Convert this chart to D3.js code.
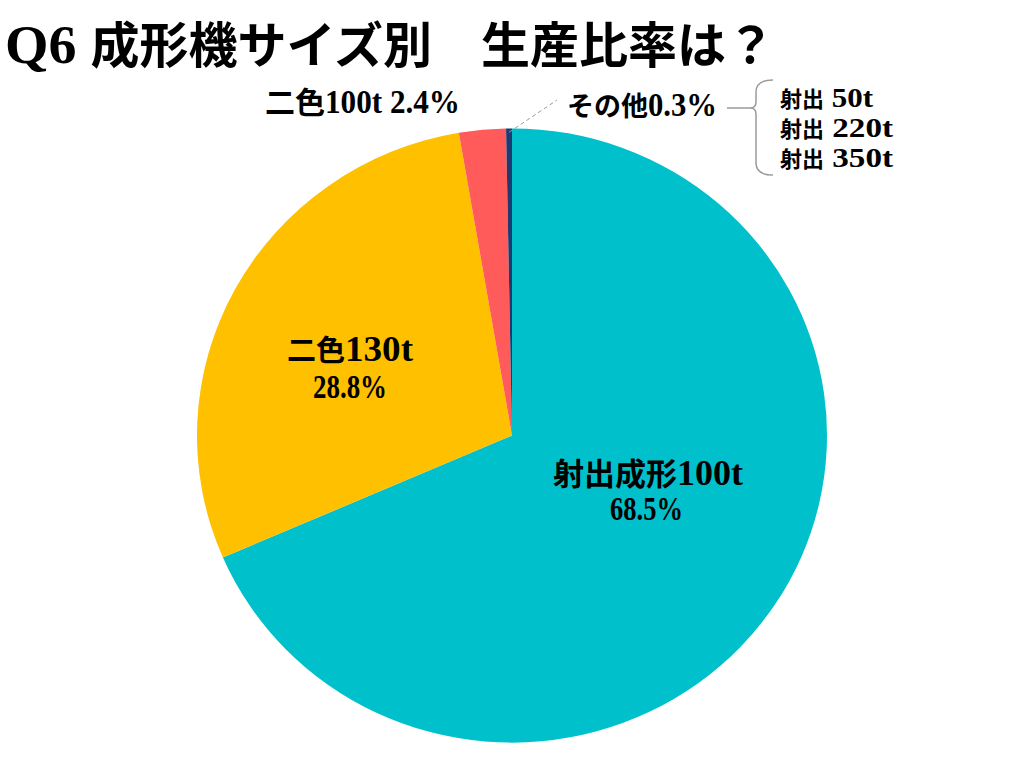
<!DOCTYPE html>
<html>
<head>
<meta charset="utf-8">
<script src="https://cdn.jsdelivr.net/npm/d3@7"></script>
<style>
html,body{margin:0;padding:0;background:#fff;}
svg text{font-family:"Liberation Serif","DejaVu Serif","Noto Sans CJK JP",serif;font-weight:bold;fill:#000;white-space:pre;}
</style>
</head>
<body>
<svg id="chart" width="1024" height="768"></svg>
<script>
// ---- data ----
const title = "Q6 成形機サイズ別　生産比率は？";
const categories = ["射出成形100t", "二色130t", "二色100t", "その他"];
const values = [68.5, 28.8, 2.4, 0.3];
const otherBreakdown = ["射出 50t", "射出 220t", "射出 350t"];

// ---- styles ----
const palette = ["#00C1CB", "#FFC000", "#FF5B5B", "#1F3A70"];

const svg = d3.select("#chart");
const W = 1024, H = 768;
svg.append("rect").attr("width", W).attr("height", H).attr("fill", "#fff");

// split into CJK / latin runs
function runs(s) {
  const out = [];
  for (const ch of s) {
    const cjk = /[\u3000-\u9fff\uff00-\uffef]/.test(ch);
    if (out.length && out[out.length - 1].cjk === cjk) out[out.length - 1].t += ch;
    else out.push({ t: ch, cjk });
  }
  return out;
}

// CJK runs keep natural width; latin runs are fitted into the remaining length
function txt(x, y, s, cjkSize, latSize, len, anchor) {
  const grp = svg.append("g");
  const parts = runs(s).map(r => {
    const t = grp.append("text").attr("x", 0).attr("y", y)
      .attr("font-size", r.cjk ? cjkSize : latSize).text(r.t);
    return { t, cjk: r.cjk, w: t.node().getComputedTextLength() };
  });
  const cjkW = d3.sum(parts.filter(p => p.cjk), p => p.w);
  const latW = d3.sum(parts.filter(p => !p.cjk), p => p.w);
  const k = (len && latW > 0) ? Math.max(0.3, (len - cjkW) / latW) : 1;
  const full = cjkW + latW * k;
  let cur = anchor === "start" ? x : x - full / 2;
  parts.forEach(p => {
    const w = p.cjk ? p.w : p.w * k;
    p.t.attr("x", cur);
    if (!p.cjk && len) p.t.attr("textLength", w).attr("lengthAdjust", "spacingAndGlyphs");
    cur += w;
  });
  return grp;
}

// title
txt(5, 63, title, 49, 54, 770, "start");

const cx = 512, cy = 435.5, R = 315, sy = 0.975;
const color = d3.scaleOrdinal().domain(categories).range(palette);
const pie = d3.pie().sort(null).value(d => d.v).startAngle(0).endAngle(2 * Math.PI);
const data = categories.map((c, i) => ({ c, v: values[i] }));
const arcs = pie(data);
const arc = d3.arc().innerRadius(0).outerRadius(R);

const g = svg.append("g").attr("transform", `translate(${cx},${cy}) scale(1,${sy})`);
g.selectAll("path").data(arcs).enter().append("path")
  .attr("d", arc)
  .attr("fill", d => color(d.data.c))
  .attr("stroke", "none");

const pct = v => v.toFixed(1) + "%";

// inner labels
txt(648, 485, categories[0], 31, 36, 190);
txt(646.5, 520, pct(values[0]), 31, 34, 73);
txt(350, 361, categories[1], 29, 36, 126);
txt(350, 398, pct(values[1]), 29, 34, 74);

// outer labels
txt(265, 113, categories[2] + " " + pct(values[2]), 30, 33, 195, "start");
txt(567, 116, categories[3] + pct(values[3]), 27, 34, 150, "start");

// leader line for その他 (from slice top edge)
const otherArc = arcs[3];
const midA = (otherArc.startAngle + otherArc.endAngle) / 2;
const lx0 = cx + (R - 4) * Math.sin(midA), ly0 = cy - (R - 4) * Math.cos(midA) * sy;
svg.append("line")
  .attr("x1", lx0).attr("y1", ly0).attr("x2", 557).attr("y2", 100)
  .attr("stroke", "#9a9a9a").attr("stroke-width", 1).attr("stroke-dasharray", "4,3");

// connector and brace
svg.append("line").attr("x1", 727).attr("y1", 108).attr("x2", 750).attr("y2", 108)
  .attr("stroke", "#9a9a9a").attr("stroke-width", 1.5);
svg.append("path")
  .attr("d", "M773,80 Q756,80 756,92 L756,102 Q756,108 750,108 Q756,108 756,114 L756,163 Q756,175 773,175")
  .attr("fill", "none").attr("stroke", "#9a9a9a").attr("stroke-width", 1.5);

otherBreakdown.forEach((s, i) => {
  const w = s.length > 6 ? 113 : 93;
  txt(780, 107 + i * 30, s, 22, 28, w, "start");
});
</script>
</body>
</html>
